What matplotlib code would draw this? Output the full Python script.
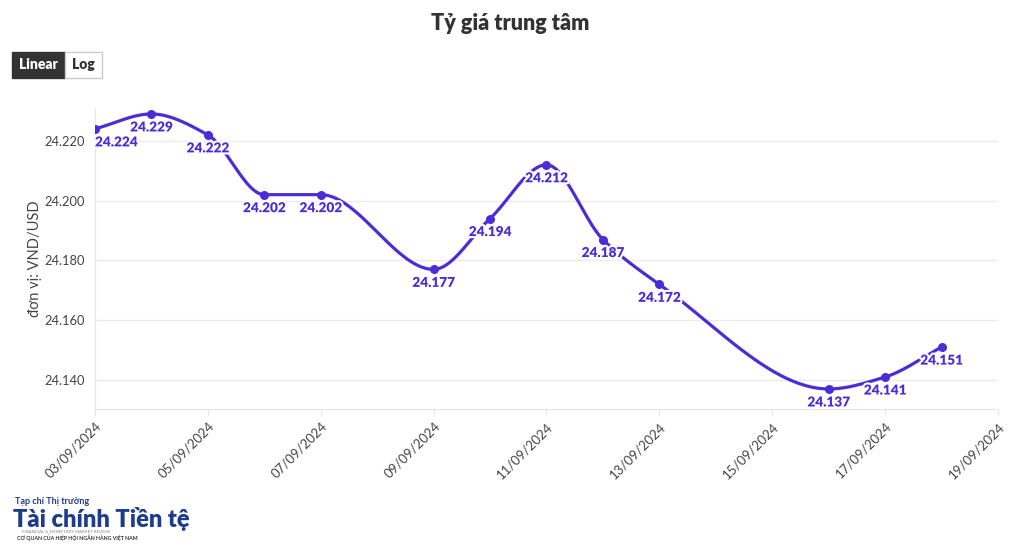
import numpy as np
import pandas as pd
import matplotlib.pyplot as plt
import matplotlib.dates as mdates
import matplotlib.patheffects as pe
from matplotlib.patches import Rectangle


# ==========================
# Data
# ==========================

dates = [
    "2024-09-03", "2024-09-04", "2024-09-05", "2024-09-06", "2024-09-07",
    "2024-09-09", "2024-09-10", "2024-09-11", "2024-09-12", "2024-09-13",
    "2024-09-16", "2024-09-17", "2024-09-18"
]

rates = [
    24224, 24229, 24222, 24202, 24202,
    24177, 24194, 24212, 24187, 24172,
    24137, 24141, 24151
]

y_ticks = [24140, 24160, 24180, 24200, 24220]

tick_dates = pd.date_range("2024-09-03", "2024-09-19", freq="2D")


LINE_COLOR = "#4A2DD6"
FONT = ["Lato", "DejaVu Sans"]

plt.rcParams["font.family"] = FONT


def fmt_vn(v):
    return f"{v:,.0f}".replace(",", ".")


# monotone cubic curve through the points (drawing only)
def monotone_curve(x, y, n=40):
    x = np.asarray(x, float)
    y = np.asarray(y, float)
    h = np.diff(x)
    d = np.diff(y) / h
    m = np.zeros_like(y)
    m[0] = d[0]
    m[-1] = d[-1]
    for i in range(1, len(y) - 1):
        if d[i - 1] * d[i] <= 0:
            m[i] = 0
        else:
            w1 = 2 * h[i] + h[i - 1]
            w2 = h[i] + 2 * h[i - 1]
            m[i] = (w1 + w2) / (w1 / d[i - 1] + w2 / d[i])
    xs, ys = [], []
    for i in range(len(h)):
        t = np.linspace(0, 1, n)
        h00 = 2 * t**3 - 3 * t**2 + 1
        h10 = t**3 - 2 * t**2 + t
        h01 = -2 * t**3 + 3 * t**2
        h11 = t**3 - t**2
        xs.append(x[i] + t * h[i])
        ys.append(h00 * y[i] + h10 * h[i] * m[i] + h01 * y[i + 1] + h11 * h[i] * m[i + 1])
    return np.concatenate(xs), np.concatenate(ys)


x = mdates.date2num(pd.to_datetime(dates))
xs, ys = monotone_curve(x, rates)


# ==========================
# Figure
# ==========================

fig = plt.figure(figsize=(10.2, 5.56), dpi=100)
ax = fig.add_axes([0.0931, 0.2644, 0.8853, 0.5414])

ax.plot(xs, ys, color=LINE_COLOR, linewidth=2.3, zorder=3, solid_capstyle="round")
ax.scatter(x, rates, s=30, color=LINE_COLOR, zorder=4)

for i, (xi, yi) in enumerate(zip(x, rates)):
    ha = "left" if i == 0 else "center"
    ax.annotate(
        fmt_vn(yi), (xi, yi),
        xytext=(0, -13), textcoords="offset pixels",
        ha=ha, va="center",
        fontsize=9.8, fontweight="heavy", color=LINE_COLOR,
        path_effects=[pe.withStroke(linewidth=3, foreground="white")],
        zorder=5
    )

ax.set_xlim(mdates.date2num(pd.Timestamp("2024-09-03")),
            mdates.date2num(pd.Timestamp("2024-09-19")))
ax.set_ylim(24130.3, 24231.0)

ax.set_yticks(y_ticks)
ax.set_yticklabels([fmt_vn(v) for v in y_ticks], fontsize=9.3, color="#444444")

ax.set_xticks(mdates.date2num(tick_dates))
ax.set_xticklabels([d.strftime("%d/%m/%Y") for d in tick_dates],
                   rotation=45, ha="right", rotation_mode="anchor",
                   fontsize=9.5, color="#444444")

ax.grid(axis="y", color="#EBEBEB", linewidth=1)
ax.set_axisbelow(True)

for side in ["top", "right"]:
    ax.spines[side].set_visible(False)
ax.spines["left"].set_color("#E6E6E6")
ax.spines["bottom"].set_color("#E6E6E6")
ax.tick_params(axis="y", length=0, pad=7)
ax.tick_params(axis="x", length=5, color="#E6E6E6", pad=3)

ax.set_ylabel("đơn vị: VND/USD", fontsize=10.5, color="#444444", labelpad=2)


# ==========================
# Title and buttons
# ==========================

fig.text(0.5, 0.957, "Tỷ giá trung tâm", ha="center", va="center",
         fontsize=15.5, fontweight="heavy", color="#333333")

fig.patches.append(Rectangle((12 / 1020, 1 - 78 / 556), 53 / 1020, 26 / 556,
                             transform=fig.transFigure, facecolor="#333333",
                             edgecolor="#333333", linewidth=1))
fig.patches.append(Rectangle((65 / 1020, 1 - 78 / 556), 37 / 1020, 26 / 556,
                             transform=fig.transFigure, facecolor="white",
                             edgecolor="#CCCCCC", linewidth=1))
fig.text(38.5 / 1020, 1 - 65 / 556, "Linear", ha="center", va="center",
         fontsize=10, fontweight="heavy", color="white")
fig.text(83.5 / 1020, 1 - 65 / 556, "Log", ha="center", va="center",
         fontsize=10, fontweight="heavy", color="#333333")


# ==========================
# Logo text
# ==========================

NAVY = "#1E3C8C"
fig.text(15 / 1020, 1 - 502 / 556, "Tạp chí Thị trường", ha="left", va="center",
         fontsize=6.5, fontweight="bold", color=NAVY)
fig.text(13 / 1020, 1 - 519 / 556, "Tài chính Tiền tệ", ha="left", va="center",
         fontsize=17, fontweight="heavy", color=NAVY)
fig.text(22 / 1020, 1 - 532 / 556, "FINANCIAL & MONETARY MARKET REVIEW",
         ha="left", va="center", fontsize=3.2, color="#888888")
fig.text(17 / 1020, 1 - 538 / 556, "CƠ QUAN CỦA HIỆP HỘI NGÂN HÀNG VIỆT NAM",
         ha="left", va="center", fontsize=3.8, fontweight="bold", color="#333333")


plt.savefig("out.png", dpi=100)
plt.close()
